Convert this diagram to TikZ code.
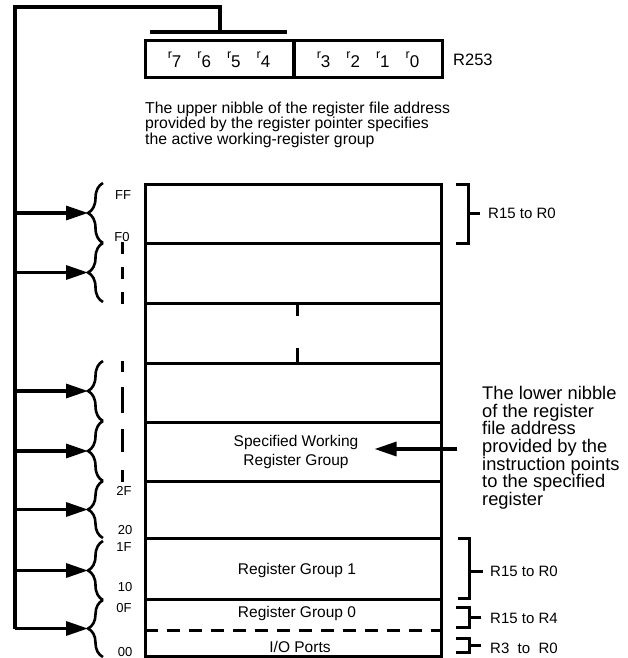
\documentclass[tikz,border=0pt]{standalone}
\usepackage{fontspec}
\setmainfont{Liberation Sans}
\usetikzlibrary{arrows.meta,decorations.pathreplacing}
\tikzset{
  regLine/.style={line width=3pt},
  busLine/.style={line width=3.2pt},
  nibbleCell/.style={draw, line width=3pt, minimum width=148pt, minimum height=37pt, inner sep=0pt, font=\fontsize{17}{17}\selectfont},
  fileBox/.style={draw, line width=3pt, minimum width=296pt, minimum height=472pt, inner sep=0pt},
  groupText/.style={align=center, inner sep=0pt, font=\fontsize{15.5}{19}\selectfont},
  addrText/.style={inner sep=0pt, font=\fontsize{13}{13}\selectfont},
  rangeText/.style={anchor=west, inner sep=0pt, font=\fontsize{15}{15}\selectfont},
  rangeBracket/.style={line width=3pt},
  groupBrace/.style={line width=2.6pt, decorate, decoration={brace, amplitude=15pt}},
  busArrow/.style={line width=3.2pt, -{Triangle[length=22pt, width=14pt]}},
  pointArrow/.style={line width=3.2pt, -{Triangle[length=22pt, width=14pt]}}
}
\newcommand{\rbit}[1]{\raisebox{8.5pt}{\fontsize{12.5}{12.5}\selectfont r}#1}

\begin{document}
\begin{tikzpicture}[x=1pt, y=-1pt,
    noteText/.style={anchor=north west, align=left, inner sep=0pt}
  ]
  \useasboundingbox (0,0) rectangle (628,658);
  % register pointer R253
  \node[nibbleCell] (upperNib) at (219,59.5) {\rbit7\hspace{16pt}\rbit6\hspace{16pt}\rbit5\hspace{16pt}\rbit4};
  \node[nibbleCell] (lowerNib) at (368,59.5) {\rbit3\hspace{16pt}\rbit2\hspace{16pt}\rbit1\hspace{16pt}\rbit0};
  \node[anchor=west, inner sep=0pt, font=\fontsize{16.5}{16.5}\selectfont] (ptrName) at (453,60) {R253};
  \node[noteText, font=\fontsize{15.8}{15.3}\selectfont] (upNote) at (145,102) {The upper nibble of the register file address\\provided by the register pointer specifies\\the active working-register group};

  % register file
  \node[fileBox] (regFile) at (293,420) {};
  \foreach \y in {243,303,363,422,481,538,599}
    \draw[regLine] (145,\y) -- (441,\y);
  \draw[regLine, dash pattern=on 13pt off 9pt] (145,630) -- (441,630);
  \draw[regLine] (297,303) -- (297,316);
  \draw[regLine] (297,348) -- (297,363);
  \node[groupText] (specGroup) at (296,452) {Specified Working\\Register Group};
  \node[groupText] (group1) at (297,570) {Register Group 1};
  \node[groupText] (group0) at (297,613) {Register Group 0};
  \node[groupText] (ioPorts) at (300,647) {I/O Ports};

  % addresses
  \node[addrText] (addrFF) at (123,195) {FF};
  \node[addrText] (addrF0) at (122,237) {F0};
  \node[addrText] (addr2F) at (124,491) {2F};
  \node[addrText] (addr20) at (125,530) {20};
  \node[addrText] (addr1F) at (124,547) {1F};
  \node[addrText] (addr10) at (125,587) {10};
  \node[addrText] (addr0F) at (124,608) {0F};
  \node[addrText] (addr00) at (125,652) {00};
  \draw[regLine, dash pattern=on 12pt off 13pt] (122,242) -- (122,305);
  \draw[regLine, dash pattern=on 11pt off 15pt on 26pt off 16pt on 23pt off 18pt on 12pt off 20pt] (122,361) -- (122,482);

  % pointer bus and group braces
  \coordinate (busTop) at (15,7);
  \coordinate (barMid) at (220,32);
  \foreach \name/\top/\bot in {tipFF/183/243, tipF0/243/302, tipA/361/421, tipB/421/481, tipC/481/538, tipOne/541/600, tipZero/600/657} {
    \draw[groupBrace] (103,\bot) -- (103,\top);
    \coordinate (\name) at (88,{(\top+\bot)/2});
    \draw[busArrow] (busTop |- \name) -- (\name);
  }
  \draw[busLine] (busTop |- tipZero) -- (busTop) -| (barMid);
  \draw[busLine] (150,32) -- (287,32);

  % register ranges
  \node[rangeText] (rangeFF) at (488,213) {R15 to R0};
  \node[rangeText] (rangeOne) at (490,571) {R15 to R0};
  \node[rangeText] (rangeZero) at (490,618) {R15 to R4};
  \node[rangeText] (rangeIO) at (490,648) {R3\ \ to\ \ R0};
  \draw[rangeBracket] (456,184) -| (468,243) -- (456,243) (468,213) -- ([xshift=-8pt]rangeFF.west);
  \draw[rangeBracket] (458,538) -| (469,598) -- (458,598) (469,571) -- ([xshift=-7pt]rangeOne.west);
  \draw[rangeBracket] (456,607) -| (469,627) -- (456,627) (469,617) -- ([xshift=-9pt]rangeZero.west |- 0,617);
  \draw[rangeBracket] (456,638) -| (469,652) -- (456,652) (469,645) -- ([xshift=-9pt]rangeIO.west |- 0,645);

  % lower nibble note
  \node[noteText, font=\fontsize{18.3}{17.7}\selectfont] (lowNote) at (482,386) {The lower nibble\\of the register\\file address\\provided by the\\instruction points\\to the specified\\register};
  \coordinate (noteTail) at (457,449);
  \draw[pointArrow] (noteTail) -- ([xshift=16pt]specGroup.east |- noteTail);
\end{tikzpicture}
\end{document}
